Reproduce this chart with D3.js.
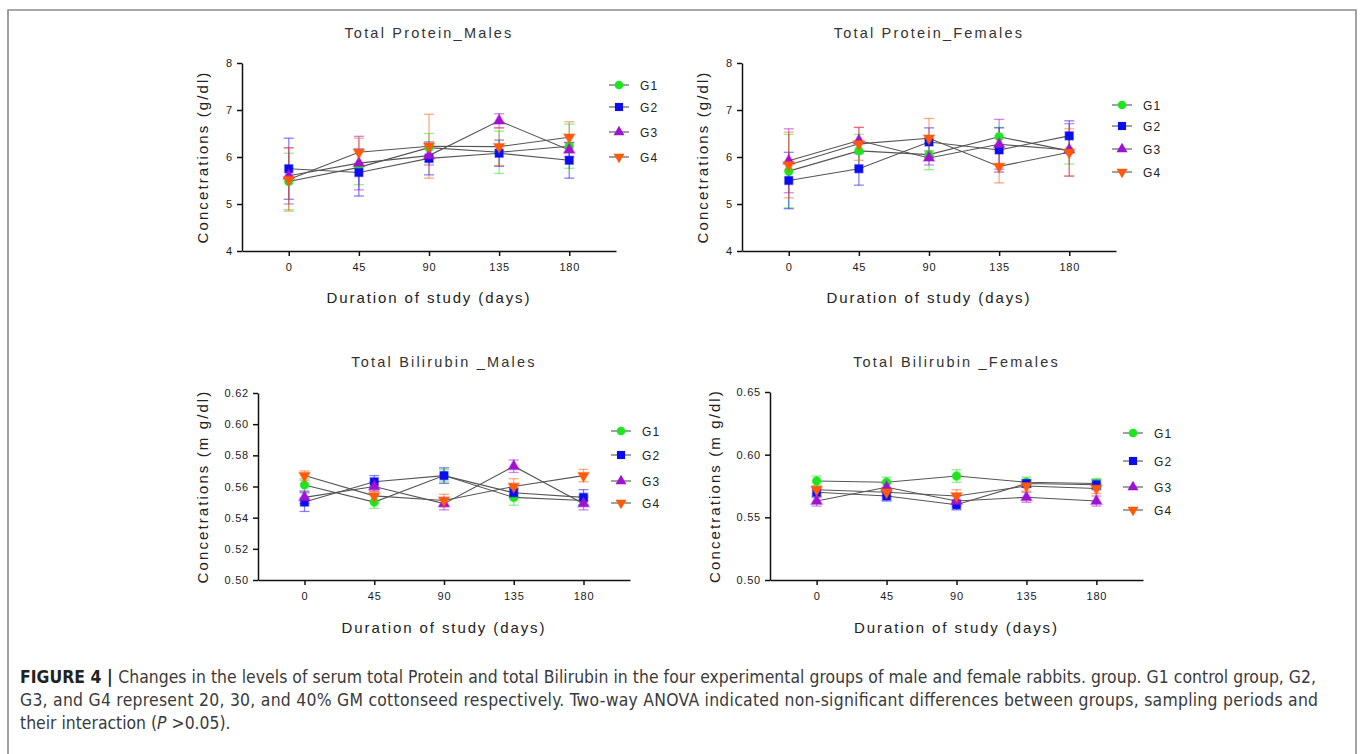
<!DOCTYPE html>
<html>
<head>
<meta charset="utf-8">
<script src="https://cdn.jsdelivr.net/npm/d3@7"></script>
<style>
  body { margin: 0; background: #fff; }
  svg text { font-family: "Liberation Sans", Arial, sans-serif; }
  .tick text { font-size: 11px; fill: #1a1a1a; letter-spacing: 0.8px; }
  .axis path, .axis line { stroke: #111; stroke-width: 1.5; }
</style>
</head>
<body>
<script>
const w = 1362, h = 754;
const days = [0, 45, 90, 135, 180];
const groups = ["G1", "G2", "G3", "G4"];
const colors = ["#1ee61e", "#0c0cf0", "#a012d2", "#ff5a0a"];

// Total Protein, males (g/dl): one row per group
const proteinMalesMean = [
    [5.48, 5.78, 6.20, 6.10, 6.23],
    [5.75, 5.67, 5.97, 6.08, 5.93],
    [5.60, 5.87, 6.03, 6.77, 6.15],
    [5.52, 6.10, 6.23, 6.22, 6.42]
];
const proteinMalesErr = [
    [0.60, 0.37, 0.30, 0.45, 0.47],
    [0.65, 0.50, 0.35, 0.28, 0.38],
    [0.60, 0.57, 0.20, 0.15, 0.15],
    [0.67, 0.30, 0.68, 0.40, 0.33]
];

// Total Protein, females (g/dl)
const proteinFemalesMean = [
    [5.70, 6.13, 6.05, 6.43, 6.13],
    [5.50, 5.75, 6.32, 6.15, 6.45],
    [5.92, 6.35, 5.98, 6.27, 6.15],
    [5.83, 6.28, 6.40, 5.80, 6.10]
];
const proteinFemalesErr = [
    [0.78, 0.35, 0.32, 0.20, 0.28],
    [0.60, 0.35, 0.30, 0.47, 0.32],
    [0.68, 0.28, 0.15, 0.53, 0.56],
    [0.70, 0.35, 0.42, 0.35, 0.50]
];

// Total Bilirubin, males (mg/dl)
const bilirubinMalesMean = [
    [0.561, 0.550, 0.567, 0.553, 0.551],
    [0.550, 0.563, 0.567, 0.556, 0.553],
    [0.553, 0.560, 0.549, 0.573, 0.549],
    [0.567, 0.554, 0.551, 0.560, 0.567]
];
const bilirubinMalesErr = [
    [0.004, 0.004, 0.004, 0.005, 0.003],
    [0.006, 0.004, 0.005, 0.003, 0.005],
    [0.004, 0.003, 0.004, 0.004, 0.004],
    [0.003, 0.003, 0.004, 0.005, 0.004]
];

// Total Bilirubin, females (mg/dl)
const bilirubinFemalesMean = [
    [0.579, 0.578, 0.583, 0.578, 0.577],
    [0.570, 0.567, 0.560, 0.577, 0.576],
    [0.563, 0.574, 0.563, 0.566, 0.563],
    [0.572, 0.570, 0.567, 0.575, 0.573]
];
const bilirubinFemalesErr = [
    [0.004, 0.004, 0.005, 0.004, 0.004],
    [0.004, 0.004, 0.004, 0.003, 0.004],
    [0.004, 0.003, 0.004, 0.004, 0.004],
    [0.003, 0.003, 0.005, 0.004, 0.004]
];

const proteinTicks = [4, 5, 6, 7, 8];
const bilirubinMalesTicks = [0.50, 0.52, 0.54, 0.56, 0.58, 0.60, 0.62];
const bilirubinFemalesTicks = [0.50, 0.55, 0.60, 0.65];

const panels = [
    { title: "Total Protein_Males", yLabel: "Concetrations (g/dl)", mean: proteinMalesMean, err: proteinMalesErr,
      yDomain: [4, 8], yTicks: proteinTicks, fmt: d3.format("d"),
      left: 242, right: 616, top: 63, bottom: 251, titleY: 38, xTitleY: 303, yTitleX: 208,
      legX: 609, legY: [85, 107, 132, 157] },
    { title: "Total Protein_Females", yLabel: "Concetrations (g/dl)", mean: proteinFemalesMean, err: proteinFemalesErr,
      yDomain: [4, 8], yTicks: proteinTicks, fmt: d3.format("d"),
      left: 742, right: 1116, top: 63, bottom: 251, titleY: 38, xTitleY: 303, yTitleX: 708,
      legX: 1112, legY: [105, 126, 149, 172] },
    { title: "Total Bilirubin _Males", yLabel: "Concetrations (m g/dl)", mean: bilirubinMalesMean, err: bilirubinMalesErr,
      yDomain: [0.50, 0.62], yTicks: bilirubinMalesTicks, fmt: d3.format(".2f"),
      left: 258, right: 630, top: 393, bottom: 580, titleY: 367, xTitleY: 633, yTitleX: 208,
      legX: 611, legY: [431, 455, 481, 503] },
    { title: "Total Bilirubin _Females", yLabel: "Concetrations (m g/dl)", mean: bilirubinFemalesMean, err: bilirubinFemalesErr,
      yDomain: [0.50, 0.65], yTicks: bilirubinFemalesTicks, fmt: d3.format(".2f"),
      left: 770, right: 1143, top: 392, bottom: 580, titleY: 367, xTitleY: 633, yTitleX: 720,
      legX: 1123, legY: [433, 461, 487, 510] }
];

const symbols = [d3.symbolCircle, d3.symbolSquare, d3.symbolTriangle, d3.symbolTriangle];
const symbolSizes = [58, 66, 52, 52];
const symbolRotate = [0, 0, 0, 180];

let svg = d3.select("body")
    .append("svg")
    .attr("width", w)
    .attr("height", h);

// figure frame
svg.append("path")
    .attr("d", "M8,760 L8,10 L1356,10 L1356,760")
    .attr("fill", "none")
    .attr("stroke", "#8a8a8a")
    .attr("stroke-width", 1.6);

function drawPanel(p) {
    let g = svg.append("g");
    let xScale = d3.scaleLinear().domain([-30, 210]).range([p.left, p.right]);
    let yScale = d3.scaleLinear().domain(p.yDomain).range([p.bottom, p.top]);

    g.append("g")
        .attr("class", "axis")
        .attr("transform", "translate(0," + p.bottom + ")")
        .call(d3.axisBottom(xScale).tickValues(days).tickSize(5).tickSizeOuter(0).tickPadding(7))
        .call(a => a.selectAll("text").attr("font-size", 11));

    g.append("g")
        .attr("class", "axis")
        .attr("transform", "translate(" + p.left + ",0)")
        .call(d3.axisLeft(yScale).tickValues(p.yTicks).tickFormat(p.fmt).tickSize(5).tickSizeOuter(0).tickPadding(4))
        .call(a => a.selectAll("text").attr("font-size", 11));

    g.selectAll(".domain").attr("stroke", "#111");

    // error bars
    p.mean.forEach((vals, gi) => {
        let eg = g.append("g").attr("stroke", colors[gi]).attr("stroke-opacity", 0.5).attr("stroke-width", 1.3);
        vals.forEach((v, i) => {
            let x = xScale(days[i]);
            let lo = yScale(v - p.err[gi][i]);
            let hi = yScale(v + p.err[gi][i]);
            eg.append("line").attr("x1", x).attr("x2", x).attr("y1", lo).attr("y2", hi);
            eg.append("line").attr("x1", x - 5).attr("x2", x + 5).attr("y1", lo).attr("y2", lo);
            eg.append("line").attr("x1", x - 5).attr("x2", x + 5).attr("y1", hi).attr("y2", hi);
        });
    });

    // connecting lines
    let line = d3.line()
        .x((d, i) => xScale(days[i]))
        .y(d => yScale(d));
    p.mean.forEach(vals => {
        g.append("path")
            .attr("d", line(vals))
            .attr("fill", "none")
            .attr("stroke", "#555")
            .attr("stroke-width", 1.1);
    });

    // markers
    p.mean.forEach((vals, gi) => {
        g.selectAll(null)
            .data(vals)
            .enter()
            .append("path")
            .attr("d", d3.symbol().type(symbols[gi]).size(symbolSizes[gi]))
            .attr("transform", (d, i) => "translate(" + xScale(days[i]) + "," + yScale(d) + ") rotate(" + symbolRotate[gi] + ")")
            .attr("fill", colors[gi])
            .attr("stroke", colors[gi])
            .attr("stroke-opacity", 0.4)
            .attr("stroke-width", 1.5);
    });

    // titles
    g.append("text")
        .attr("x", (p.left + p.right) / 2)
        .attr("y", p.titleY)
        .attr("text-anchor", "middle")
        .attr("font-size", 14.5)
        .attr("letter-spacing", "2.2px")
        .attr("fill", "#333")
        .text(p.title);

    g.append("text")
        .attr("x", (p.left + p.right) / 2)
        .attr("y", p.xTitleY)
        .attr("text-anchor", "middle")
        .attr("font-size", 15)
        .attr("letter-spacing", "1.9px")
        .attr("fill", "#222")
        .text("Duration of study (days)");

    g.append("text")
        .attr("transform", "translate(" + p.yTitleX + "," + (p.top + p.bottom) / 2 + ") rotate(-90)")
        .attr("text-anchor", "middle")
        .attr("font-size", 15)
        .attr("letter-spacing", "2.1px")
        .attr("fill", "#222")
        .text(p.yLabel);

    // legend
    groups.forEach((name, gi) => {
        let ly = p.legY[gi];
        g.append("line")
            .attr("x1", p.legX).attr("x2", p.legX + 20)
            .attr("y1", ly).attr("y2", ly)
            .attr("stroke", "#555").attr("stroke-width", 1.1);
        g.append("path")
            .attr("d", d3.symbol().type(symbols[gi]).size(symbolSizes[gi]))
            .attr("transform", "translate(" + (p.legX + 10) + "," + ly + ") rotate(" + symbolRotate[gi] + ")")
            .attr("fill", colors[gi]);
        g.append("text")
            .attr("x", p.legX + 31)
            .attr("y", ly + 4.5)
            .attr("font-size", 12)
            .attr("letter-spacing", "1.2px")
            .attr("fill", "#222")
            .text(name);
    });
}

panels.forEach(drawPanel);

// caption
const captionLines = [
    [["FIGURE 4 | ", "bold"], ["Changes in the levels of serum total Protein and total Bilirubin in the four experimental groups of male and female rabbits. group. G1 control group, G2,", "normal"]],
    [["G3, and G4 represent 20, 30, and 40% GM cottonseed respectively. Two-way ANOVA indicated non-significant differences between groups, sampling periods and", "normal"]],
    [["their interaction (", "normal"], ["P", "italic"], [" >0.05).", "normal"]]
];
const captionY = [683, 706, 729];
const captionWidth = [1296, 1298, null];

captionLines.forEach((parts, li) => {
    let t = svg.append("text")
        .attr("x", 20)
        .attr("y", captionY[li])
        .attr("font-size", 17.4)
        .attr("fill", "#3a3a3a")
        .style("font-family", "'Liberation Sans Narrow', 'DejaVu Sans Condensed', sans-serif");
    if (captionWidth[li]) t.attr("textLength", captionWidth[li]).attr("lengthAdjust", "spacing");
    parts.forEach(part => {
        let s = t.append("tspan").text(part[0]);
        if (part[1] === "bold") s.attr("font-weight", "bold").attr("fill", "#222");
        if (part[1] === "italic") s.attr("font-style", "italic");
    });
});
</script>
</body>
</html>
